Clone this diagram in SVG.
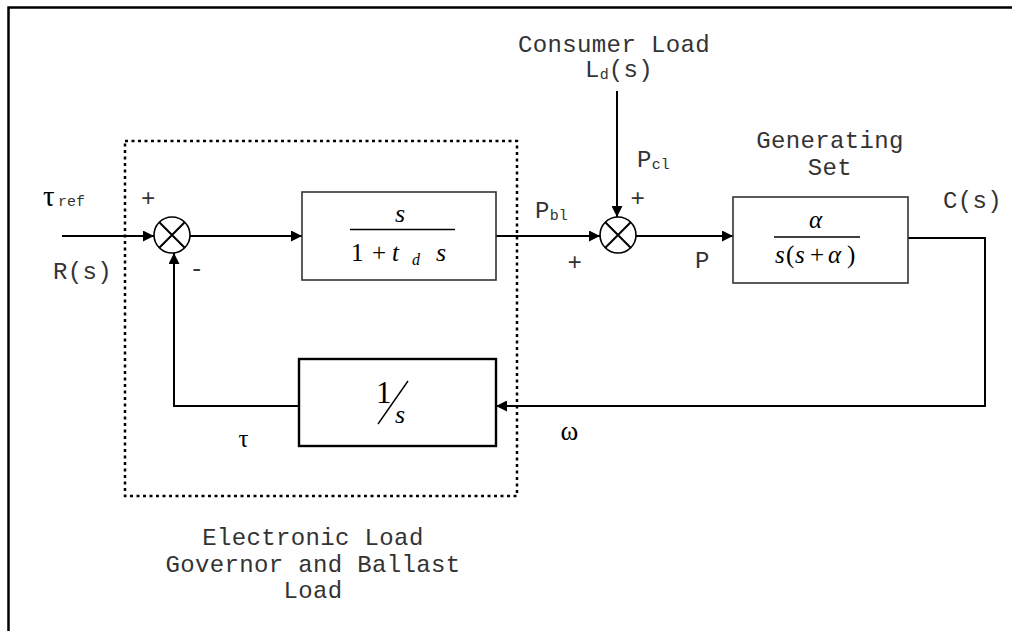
<svg xmlns="http://www.w3.org/2000/svg" width="1012" height="631" viewBox="0 0 1012 631">
<defs>
<marker id="arr" viewBox="0 0 10 10" refX="10" refY="5" markerWidth="11" markerHeight="11" markerUnits="userSpaceOnUse" orient="auto">
<path d="M0,0 L10,5 L0,10 z" fill="#000"/>
</marker>
</defs>
<style>
.mono{font-family:"Liberation Mono","Courier New",monospace;font-size:24px;letter-spacing:0.35px;fill:#333}
.sub{font-size:15px;letter-spacing:0}
.ser{font-family:"Liberation Serif","Times New Roman",serif;fill:#000}
.it{font-style:italic}
.wire{fill:none;stroke:#000;stroke-width:2}
.blk{fill:#fff;stroke:#333;stroke-width:1.6}
.sum{fill:#fff;stroke:#000;stroke-width:1.6}
</style>
<rect width="1012" height="631" fill="#fff"/>
<path d="M8.5,631 V7.5 H1012" fill="none" stroke="#000" stroke-width="2.5"/>

<g id="elg-boundary">
<rect x="125" y="141" width="392" height="355" fill="none" stroke="#000" stroke-width="2.5" stroke-dasharray="3,3.5"/>
<text class="mono" x="313" y="545" text-anchor="middle">Electronic Load</text>
<text class="mono" x="313" y="572" text-anchor="middle">Governor and Ballast</text>
<text class="mono" x="313" y="598" text-anchor="middle">Load</text>
</g>

<g id="connectors">
<path class="wire" d="M62,236 H154" marker-end="url(#arr)"/>
<path class="wire" d="M190,236 H302" marker-end="url(#arr)"/>
<path class="wire" d="M496,236 H600" marker-end="url(#arr)"/>
<path class="wire" d="M617,91 V217" marker-end="url(#arr)"/>
<path class="wire" d="M636,236 H733" marker-end="url(#arr)"/>
<path class="wire" d="M908,238 H985 V406 H496" marker-end="url(#arr)" stroke-width="2.4"/>
<path class="wire" d="M299,406 H174 V253" marker-end="url(#arr)" stroke-width="2.4"/>
</g>

<g id="sum1">
<circle class="sum" cx="172" cy="235" r="18"/>
<path d="M159.3,222.3 L184.7,247.7 M184.7,222.3 L159.3,247.7" stroke="#000" stroke-width="2"/>
</g>

<g id="sum2">
<circle class="sum" cx="618" cy="235" r="18"/>
<path d="M605.3,222.3 L630.7,247.7 M630.7,222.3 L605.3,247.7" stroke="#000" stroke-width="2"/>
</g>

<g id="block-elg">
<rect class="blk" x="302" y="192" width="194" height="88"/>
<text class="ser it" x="400" y="222" font-size="26" text-anchor="middle">s</text>
<line x1="350" y1="229.5" x2="455" y2="229.5" stroke="#000" stroke-width="1.3"/>
<text class="ser" x="351" y="261" font-size="25">1</text>
<text class="ser" x="372" y="261" font-size="25">+</text>
<text class="ser it" x="392" y="261" font-size="25">t</text>
<text class="ser it" x="412" y="265" font-size="16">d</text>
<text class="ser it" x="436" y="261" font-size="26">s</text>
</g>

<g id="block-gen">
<rect class="blk" x="733" y="197" width="175" height="86"/>
<text class="ser it" x="815.5" y="228" font-size="25" text-anchor="middle">α</text>
<line x1="774" y1="237" x2="860" y2="237" stroke="#000" stroke-width="1.3"/>
<text class="ser it" x="775" y="263" font-size="25">s</text>
<text class="ser" x="786" y="263" font-size="25">(</text>
<text class="ser it" x="795" y="263" font-size="25">s</text>
<text class="ser" x="810" y="263" font-size="25">+</text>
<text class="ser it" x="828" y="263" font-size="25">α</text>
<text class="ser" x="847" y="263" font-size="25">)</text>
</g>

<g id="block-int">
<rect x="299" y="359" width="197" height="87" fill="#fff" stroke="#000" stroke-width="2.4"/>
<text class="ser" x="376" y="403" font-size="31">1</text>
<line x1="378" y1="424" x2="408" y2="381" stroke="#000" stroke-width="1.4"/>
<text class="ser it" x="395" y="423" font-size="26">s</text>
</g>

<g id="labels">
<text class="mono" x="614" y="52" text-anchor="middle">Consumer Load</text>
<text class="mono" x="585" y="77">L<tspan class="sub" dy="2">d</tspan><tspan dy="-2">(s)</tspan></text>
<text class="mono" x="637" y="167">P<tspan class="sub" dy="2">cl</tspan></text>
<text class="mono" x="638" y="206" text-anchor="middle">+</text>
<text class="mono" x="535" y="218">P<tspan class="sub" dy="2">bl</tspan></text>
<text class="mono" x="575" y="270" text-anchor="middle">+</text>
<text class="mono" x="695" y="268">P</text>
<text class="mono" x="830" y="148" text-anchor="middle">Generating</text>
<text class="mono" x="830" y="175" text-anchor="middle">Set</text>
<text class="mono" x="943" y="208">C(s)</text>
<text class="ser" x="43" y="206" font-size="29">τ</text>
<text class="mono sub" x="58" y="206">ref</text>
<text class="mono" x="148.5" y="206" text-anchor="middle">+</text>
<text class="mono" x="53" y="279">R(s)</text>
<text class="mono" x="197" y="276" text-anchor="middle">-</text>
<text class="ser" x="243.5" y="447" font-size="25" text-anchor="middle">τ</text>
<text class="ser" x="569.5" y="440" font-size="27" text-anchor="middle">ω</text>
</g>
</svg>
